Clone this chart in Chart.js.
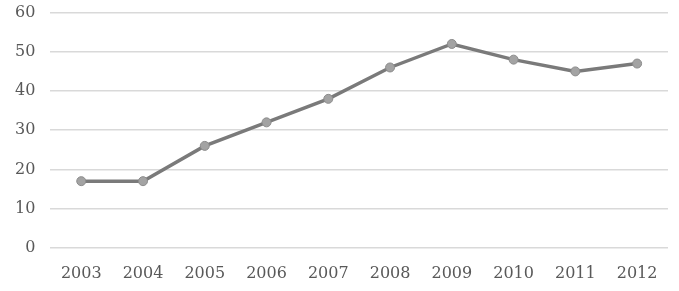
<!DOCTYPE html>
<html><head><meta charset="utf-8">
<script src="https://cdn.jsdelivr.net/npm/chart.js@4"></script>
<style>html,body{margin:0;padding:0;background:#fff;overflow:hidden}#w{position:relative;top:-12px;width:679px;height:305px}</style>
</head><body><div id="w"><canvas id="c"></canvas></div>
<script>
const years = ['2003','2004','2005','2006','2007','2008','2009','2010','2011','2012'];
const values = [17,17,26,32,38,46,52,48,45,47];
const yTicks = [0,10,20,30,40,50,60];

new Chart(document.getElementById('c'), {
  type: 'line',
  data: { labels: years, datasets: [{
    data: values,
    borderColor: '#7a7a7a', borderWidth: 3.5,
    pointBackgroundColor: '#a3a3a3', pointBorderColor: '#8c8c8c', pointBorderWidth: 1,
    pointRadius: 4.5, tension: 0
  }]},
  options: {
    responsive: true, maintainAspectRatio: false, animation: false,
    layout: { padding: { top: 0, right: 11, bottom: 2, left: 0 } },
    plugins: { legend: { display: false }, tooltip: { enabled: false } },
    scales: {
      x: { offset: true, grid: { display: false }, border: { display: false },
        ticks: { color: '#595959', font: { family: 'DejaVu Serif', size: 16 }, padding: 8, maxRotation: 0 } },
      y: { min: 0, max: 60, afterBuildTicks: a => { a.ticks = yTicks.map(v => ({ value: v })); },
        grid: { color: '#d9d9d9', lineWidth: 1.5, drawTicks: false }, border: { display: false },
        ticks: { color: '#595959', font: { family: 'DejaVu Serif', size: 16 }, padding: 15 } }
    }
  }
});
</script></body></html>
